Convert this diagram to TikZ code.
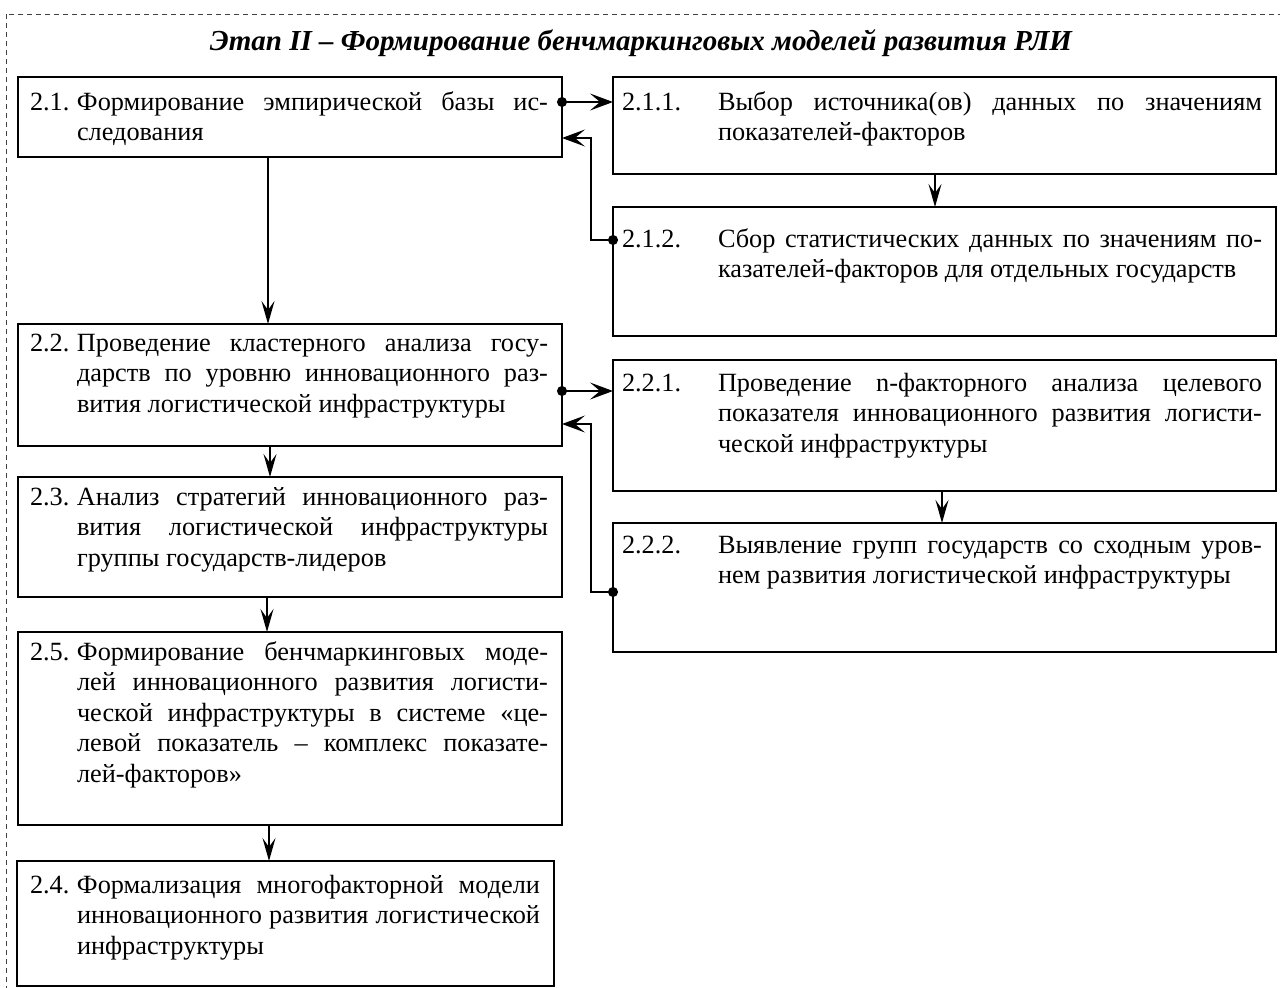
\documentclass[tikz,border=0pt]{standalone}
\usepackage{fontspec}
\setmainfont{Liberation Serif}
\usetikzlibrary{arrows.meta}

% one justified line of a box text
\newcommand{\jl}[1]{\makebox[\linewidth][s]{#1}\\}
% box body: width, height, left pad, first baseline, number column, number, text
\newcommand{\boxtext}[7]{\parbox[b][#2][t]{#1}{\hspace*{#3}\rule{0pt}{#4}\parbox[t]{#5}{#6}\parbox[t]{\dimexpr#1-#3-#5-14pt\relax}{#7}}}

\tikzset{
  lbox/.style={draw, line width=2.8pt, inner sep=0pt, outer sep=0pt, anchor=north west,
    font=\fontsize{26.3}{30.5}\selectfont},
  rbox/.style={lbox, line width=1.2pt},
  tipH/.tip={Stealth[length=23pt 0 0,width=17pt 0 0,inset=10pt 0 0]},
  tipV/.tip={Stealth[length=23pt 0 0,width=13pt 0 0,inset=9pt 0 0]},
  dotarr/.style={line width=1.5pt, {Circle[length=10pt 0 0]}-tipH, shorten <=-5pt},
  varr/.style={line width=1.7pt, -tipV},
  frame/.style={draw=black!75, line width=1pt, dash pattern=on 5pt off 4pt}
}

\begin{document}
\begin{tikzpicture}[x=1pt, y=-1pt]
\useasboundingbox (0,0) rectangle (1280,988);
\draw[frame] (6,14) rectangle (1300,1010);

\node[font=\fontsize{29}{34}\selectfont\bfseries\itshape] (title) at (641,43)
  {Этап II – Формирование бенчмаркинговых моделей развития РЛИ};

% left column
\node[lbox] (b21) at (18,77) {\boxtext{544pt}{80pt}{12pt}{33pt}{47pt}{2.1.}{%
  \jl{Формирование эмпирической базы ис-}%
  следования}};
\node[lbox] (b22) at (18,324) {\boxtext{544pt}{122pt}{12pt}{27pt}{47pt}{2.2.}{%
  \jl{Проведение кластерного анализа госу-}%
  \jl{дарств по уровню инновационного раз-}%
  вития логистической инфраструктуры}};
\node[lbox] (b23) at (18,477) {\boxtext{544pt}{120pt}{12pt}{28pt}{47pt}{2.3.}{%
  \jl{Анализ стратегий инновационного раз-}%
  \jl{вития логистической инфраструктуры}%
  группы государств-лидеров}};
\node[lbox] (b25) at (18,632) {\boxtext{544pt}{193pt}{12pt}{28pt}{47pt}{2.5.}{%
  \jl{Формирование бенчмаркинговых моде-}%
  \jl{лей инновационного развития логисти-}%
  \jl{ческой инфраструктуры в системе «це-}%
  \jl{левой показатель – комплекс показате-}%
  лей-факторов»}};
\node[lbox] (b24) at (17,861) {\boxtext{537pt}{125pt}{13pt}{32pt}{47pt}{2.4.}{%
  \jl{Формализация многофакторной модели}%
  \jl{инновационного развития логистической}%
  инфраструктуры}};

% right column
\node[rbox] (b211) at (613,77) {\boxtext{663pt}{97pt}{9pt}{33pt}{96pt}{2.1.1.}{%
  \jl{Выбор источника(ов) данных по значениям}%
  показателей-факторов}};
\node[rbox] (b212) at (613,207) {\boxtext{663pt}{129pt}{9pt}{40pt}{96pt}{2.1.2.}{%
  \jl{Сбор статистических данных по значениям по-}%
  казателей-факторов для отдельных государств}};
\node[rbox] (b221) at (613,360) {\boxtext{663pt}{131pt}{9pt}{31pt}{96pt}{2.2.1.}{%
  \jl{Проведение n-факторного анализа целевого}%
  \jl{показателя инновационного развития логисти-}%
  ческой инфраструктуры}};
\node[rbox] (b222) at (613,523) {\boxtext{663pt}{129pt}{9pt}{30pt}{96pt}{2.2.2.}{%
  \jl{Выявление групп государств со сходным уров-}%
  нем развития логистической инфраструктуры}};

% connectors
\draw[dotarr] ([yshift=-25pt]b21.north east) -- ([yshift=-25pt]b211.north west);
\draw[dotarr] ([yshift=-33pt]b212.north west) -- ++(-22,0) |- ([yshift=-61pt]b21.north east);
\draw[varr] ([xshift=322pt]b211.south west) -- ([xshift=322pt]b212.north west);
\draw[varr, line width=2.6pt] ([xshift=250pt]b21.south west) -- ([xshift=250pt]b22.north west);
\draw[dotarr] ([yshift=-67pt]b22.north east) -- ([yshift=-31pt]b221.north west);
\draw[dotarr] ([yshift=-69pt]b222.north west) -- ++(-22,0) |- ([yshift=-100pt]b22.north east);
\draw[varr] ([xshift=329pt]b221.south west) -- ([xshift=329pt]b222.north west);
\draw[varr] ([xshift=252pt]b22.south west) -- ([xshift=252pt]b23.north west);
\draw[varr] ([xshift=249pt]b23.south west) -- ([xshift=249pt]b25.north west);
\draw[varr] ([xshift=251pt]b25.south west) -- ([xshift=252pt]b24.north west);
\end{tikzpicture}
\end{document}
